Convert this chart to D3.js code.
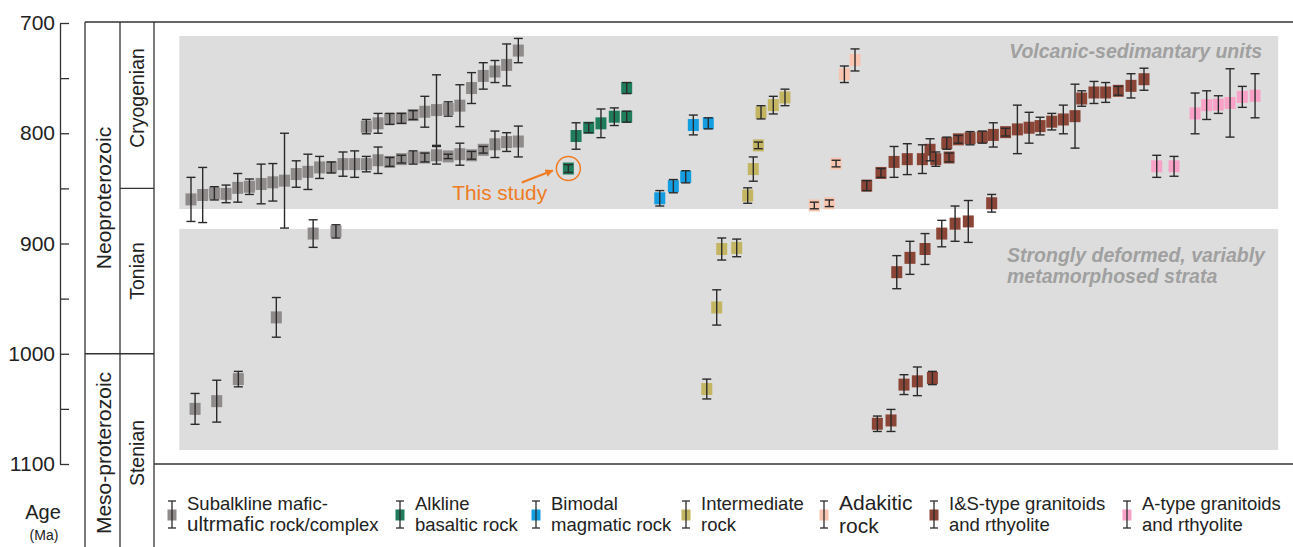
<!DOCTYPE html>
<html>
<head>
<meta charset="utf-8">
<script src="https://cdn.jsdelivr.net/npm/d3@7"></script>
<style>
  body { margin: 0; background: #fff; }
  svg { display: block; font-family: "Liberation Sans", Arial, Helvetica, sans-serif; }
</style>
</head>
<body>
<svg id="chart" width="1293" height="547"></svg>
<script>
// ---- Data: [sample position, age (Ma), 2σ error (Ma)] ----
const subalkalineMafic = [
  [1, 860, 20], [2, 856, 25], [3, 854.5, 6], [4, 855, 8], [5, 849.5, 13],
  [6, 848.5, 7], [7, 846, 18], [8, 844.5, 17], [9, 843, 43], [10, 837, 12],
  [11, 835, 16], [12, 831, 10], [13, 831, 5], [14, 828, 11], [15, 828, 12],
  [16, 828, 7], [17, 824.5, 12], [18, 826, 4], [19, 823.5, 3.5], [20, 822, 6],
  [21, 822, 4], [22, 820, 8], [23, 821, 2], [24, 819, 10], [25, 820, 3.5],
  [26, 815, 3], [27, 810, 12], [28, 808, 8.5], [29, 807.5, 14],
  [16, 794, 6.5], [17, 791, 9], [18, 787, 5], [19, 786.5, 4.5], [20, 783.5, 4],
  [21, 780.5, 14], [22, 779, 32], [23, 778, 6.5], [24, 775, 19], [25, 759, 14],
  [26, 748, 12], [27, 744, 10], [28, 738, 19], [29, 725, 11],
  [1.35, 1050, 14], [3.2, 1043, 19], [5.05, 1023, 7], [8.3, 967, 18],
  [11.45, 891, 12.5], [13.4, 889, 6]
];
const alkalineBasalt = [
  [33.28, 832, 3.5], [33.94, 802.5, 12], [35.02, 795, 4.5], [36.07, 791, 13],
  [37.21, 785, 8], [38.27, 785, 5], [38.27, 759, 5]
];
const bimodal = [
  [41.1, 859, 7], [42.26, 848, 6], [43.32, 839.5, 5.5], [43.97, 792.5, 9], [45.25, 791, 5]
];
const intermediate = [
  [45.12, 1032, 9], [45.97, 958, 16], [46.4, 905, 10], [47.68, 904, 8],
  [48.62, 856.5, 7], [49.1, 832.5, 11], [49.53, 811, 3], [49.76, 781, 6],
  [50.81, 774.5, 8], [51.81, 767.5, 7.5]
];
const adakitic = [
  [54.32, 865.5, 3], [55.6, 863.5, 3], [56.18, 827.5, 3], [56.89, 746.5, 7.5], [57.8, 733.5, 10]
];
const isGranitoids = [
  [58.8, 847.5, 4.5], [59.71, 1063.5, 7], [60.02, 836, 4], [60.88, 1060.5, 10],
  [61.14, 826, 14], [61.37, 926, 15], [61.99, 1028, 9], [62.27, 823.5, 14],
  [62.5, 913, 15], [63.13, 1025, 13], [63.56, 823.5, 13], [63.79, 905, 14],
  [64.22, 815, 10], [64.42, 1022, 6], [64.71, 823.5, 6.5], [65.22, 891, 12],
  [65.65, 809, 5.5], [65.85, 822, 4], [66.36, 882, 16], [66.64, 805.5, 3.5],
  [67.49, 880, 19], [67.64, 804.5, 6], [68.69, 803.5, 5.5], [69.49, 863.5, 8],
  [69.63, 801.5, 11], [70.68, 799, 3.5], [71.69, 796.5, 22], [72.69, 795, 14],
  [73.63, 793.5, 8], [74.63, 789.5, 7.5], [75.62, 787.5, 13], [76.62, 784.5, 29],
  [77.19, 768.5, 7], [78.24, 763, 10], [79.24, 763, 9], [80.32, 761.5, 4],
  [81.41, 757, 11], [82.52, 751, 10]
];
const aTypeGranitoids = [
  [83.61, 830, 10], [85.09, 830, 9], [86.89, 782, 18.5], [87.88, 774.5, 13],
  [88.88, 774, 8], [89.88, 772.5, 31], [90.93, 767, 9.5], [92.02, 766, 20]
];
const thisStudy = [33.28, 832];

const ageTicks = [700, 750, 800, 850, 900, 950, 1000, 1050, 1100];
const ageLabels = [700, 800, 900, 1000, 1100];

// Geological time scale: [name, start Ma, end Ma]
const eras = [["Neoproterozoic", 700, 1000], ["Meso-proterozoic", 1000, 1100]];
const periods = [["Cryogenian", 700, 850], ["Tonian", 850, 1000], ["Stenian", 1000, 1100]];

// Shaded stratigraphic panels: [top Ma, bottom Ma]
const panels = [[711.8, 868.7], [886.8, 1087.3]];

const seriesNames = [
  ["Subalkline mafic-", "ultrmafic rock/complex"],
  ["Alkline", "basaltic rock"],
  ["Bimodal", "magmatic rock"],
  ["Intermediate", "rock"],
  ["Adakitic", "rock"],
  ["I&S-type granitoids", "and rthyolite"],
  ["A-type granitoids", "and rthyolite"]
];

// ---- Styling ----
const colors = ["#8e8b8a", "#1f7d5c", "#139ee2", "#c3b561", "#f8c5b0", "#8b4536", "#f8a2c8"];
const seriesData = [subalkalineMafic, alkalineBasalt, bimodal, intermediate, adakitic, isGranitoids, aTypeGranitoids];

const svg = d3.select("#chart");
const W = 1293, H = 547;

const y = d3.scaleLinear().domain([700, 1100]).range([23, 464]);
const x = d3.scaleLinear().domain([0, 94]).range([179.3, 1278.2]);

// Shaded panels
svg.append("g").selectAll("rect").data(panels).join("rect")
  .attr("x", x(0)).attr("width", x(94) - x(0))
  .attr("y", d => y(d[0])).attr("height", d => y(d[1]) - y(d[0]))
  .attr("fill", "#dddddd");

// Panel captions
const capStyle = t => t.attr("font-weight", "bold").attr("font-style", "italic")
  .attr("font-size", 19.5).attr("fill", "#a0a0a0");
svg.append("text").attr("x", 1262).attr("y", 58).attr("text-anchor", "end")
  .text("Volcanic-sedimantary units").call(capStyle);
svg.append("text").attr("x", 1007).attr("y", 262)
  .text("Strongly deformed, variably").call(capStyle);
svg.append("text").attr("x", 1007).attr("y", 283)
  .text("metamorphosed strata").call(capStyle);

// Age axis (ticks point inward)
const axis = d3.axisLeft(y).tickValues(ageTicks).tickSizeInner(-9).tickSizeOuter(0).tickPadding(5)
  .tickFormat(d => ageLabels.includes(d) ? d : "");
const gAxis = svg.append("g").attr("transform", "translate(60,0)").call(axis);
gAxis.select(".domain").attr("stroke", "#333").attr("stroke-width", 1.3);
gAxis.selectAll(".tick line").attr("stroke", "#333").attr("stroke-width", 1.3);
gAxis.selectAll(".tick text").attr("font-size", 21).attr("fill", "#222")
  .attr("font-family", "\"Liberation Sans\", Arial, sans-serif");

svg.append("text").attr("x", 43).attr("y", 519).attr("text-anchor", "middle")
  .attr("font-size", 20).attr("fill", "#222").text("Age");
svg.append("text").attr("x", 44).attr("y", 540).attr("text-anchor", "middle")
  .attr("font-size", 14).attr("fill", "#222").text("(Ma)");

// Time-scale columns
const colEra = [85, 120], colPer = [120, 154];
const frame = svg.append("g").attr("stroke", "#333").attr("stroke-width", 1.3);
frame.append("line").attr("x1", colEra[0]).attr("x2", W).attr("y1", y(700) - 1).attr("y2", y(700) - 1);
[colEra[0], colEra[1], colPer[1]].forEach(xx =>
  frame.append("line").attr("x1", xx).attr("x2", xx).attr("y1", y(700) - 1).attr("y2", H));
frame.append("line").attr("x1", colPer[0]).attr("x2", colPer[1]).attr("y1", y(850)).attr("y2", y(850));
frame.append("line").attr("x1", colEra[0]).attr("x2", colPer[1]).attr("y1", y(1000)).attr("y2", y(1000));
frame.append("line").attr("x1", colPer[1]).attr("x2", W).attr("y1", y(1100)).attr("y2", y(1100));

const eraLabelY = { "Neoproterozoic": 198, "Meso-proterozoic": 453 };
const perLabelY = { "Cryogenian": 98, "Tonian": 271, "Stenian": 453 };
svg.append("g").selectAll("text").data(eras).join("text")
  .attr("transform", d => `translate(103,${eraLabelY[d[0]]}) rotate(-90)`)
  .attr("text-anchor", "middle").attr("dominant-baseline", "central")
  .attr("font-size", 21).attr("fill", "#222").text(d => d[0]);
svg.append("g").selectAll("text").data(periods).join("text")
  .attr("transform", d => `translate(137,${perLabelY[d[0]]}) rotate(-90)`)
  .attr("text-anchor", "middle").attr("dominant-baseline", "central")
  .attr("font-size", 19.5).attr("fill", "#222").text(d => d[0]);

// Markers and error bars
const mw = 11, mh = 12, cap = 4.5;
seriesData.forEach((data, i) => {
  const g = svg.append("g");
  g.selectAll("rect").data(data).join("rect")
    .attr("x", d => x(d[0]) - mw / 2).attr("y", d => y(d[1]) - mh / 2)
    .attr("width", mw).attr("height", mh).attr("fill", colors[i]);
  const eb = g.selectAll("g.eb").data(data).join("g").attr("class", "eb")
    .attr("stroke", "#2a2a2a").attr("stroke-width", 1.4);
  eb.append("line").attr("x1", d => x(d[0])).attr("x2", d => x(d[0]))
    .attr("y1", d => y(d[1] - d[2])).attr("y2", d => y(d[1] + d[2]));
  eb.append("line").attr("x1", d => x(d[0]) - cap).attr("x2", d => x(d[0]) + cap)
    .attr("y1", d => y(d[1] - d[2])).attr("y2", d => y(d[1] - d[2]));
  eb.append("line").attr("x1", d => x(d[0]) - cap).attr("x2", d => x(d[0]) + cap)
    .attr("y1", d => y(d[1] + d[2])).attr("y2", d => y(d[1] + d[2]));
});

// "This study" highlight
const orange = "#ef7b22";
const cx = x(thisStudy[0]), cy = y(thisStudy[1]);
svg.append("defs").append("marker").attr("id", "arrowhead")
  .attr("viewBox", "0 0 10 10").attr("refX", 9).attr("refY", 5)
  .attr("markerWidth", 4).attr("markerHeight", 4).attr("orient", "auto")
  .append("path").attr("d", "M0,0 L10,5 L0,10 Z").attr("fill", orange);
svg.append("circle").attr("cx", cx).attr("cy", cy).attr("r", 12)
  .attr("fill", "none").attr("stroke", orange).attr("stroke-width", 1.5);
svg.append("line").attr("x1", cx - 46.6).attr("y1", cy + 14).attr("x2", cx - 15.6).attr("y2", cy + 2)
  .attr("stroke", orange).attr("stroke-width", 2).attr("marker-end", "url(#arrowhead)");
svg.append("text").attr("x", cx - 21.3).attr("y", cy + 31.7).attr("text-anchor", "end")
  .attr("font-size", 20.8).attr("fill", orange).text("This study");

// Legend
const legendX = [172, 400, 536, 686, 824, 934, 1127];
const lg = svg.append("g");
seriesNames.forEach((names, i) => {
  const lx = legendX[i];
  const item = lg.append("g");
  item.append("rect").attr("x", lx - 4.5).attr("y", 509.5).attr("width", 9).attr("height", 11)
    .attr("fill", colors[i]);
  const e = item.append("g").attr("stroke", "#2a2a2a").attr("stroke-width", 1.3);
  e.append("line").attr("x1", lx).attr("x2", lx).attr("y1", 501).attr("y2", 528);
  e.append("line").attr("x1", lx - 4).attr("x2", lx + 4).attr("y1", 501).attr("y2", 501);
  e.append("line").attr("x1", lx - 4).attr("x2", lx + 4).attr("y1", 528).attr("y2", 528);
  const big = i === 4;
  const t1 = item.append("text").attr("x", lx + 15).attr("y", 510)
    .attr("font-size", big ? 21 : 18.5).attr("fill", "#222").text(names[0]);
  const t2 = item.append("text").attr("x", lx + 15).attr("y", big ? 533 : 531)
    .attr("font-size", big ? 21 : 18.5).attr("fill", "#222");
  if (i === 0) {
    const parts = names[1].split(" ");
    t2.append("tspan").attr("font-size", 20.5).text(parts[0]);
    t2.append("tspan").text(" " + parts.slice(1).join(" "));
  } else {
    t2.text(names[1]);
  }
});
</script>
</body>
</html>
